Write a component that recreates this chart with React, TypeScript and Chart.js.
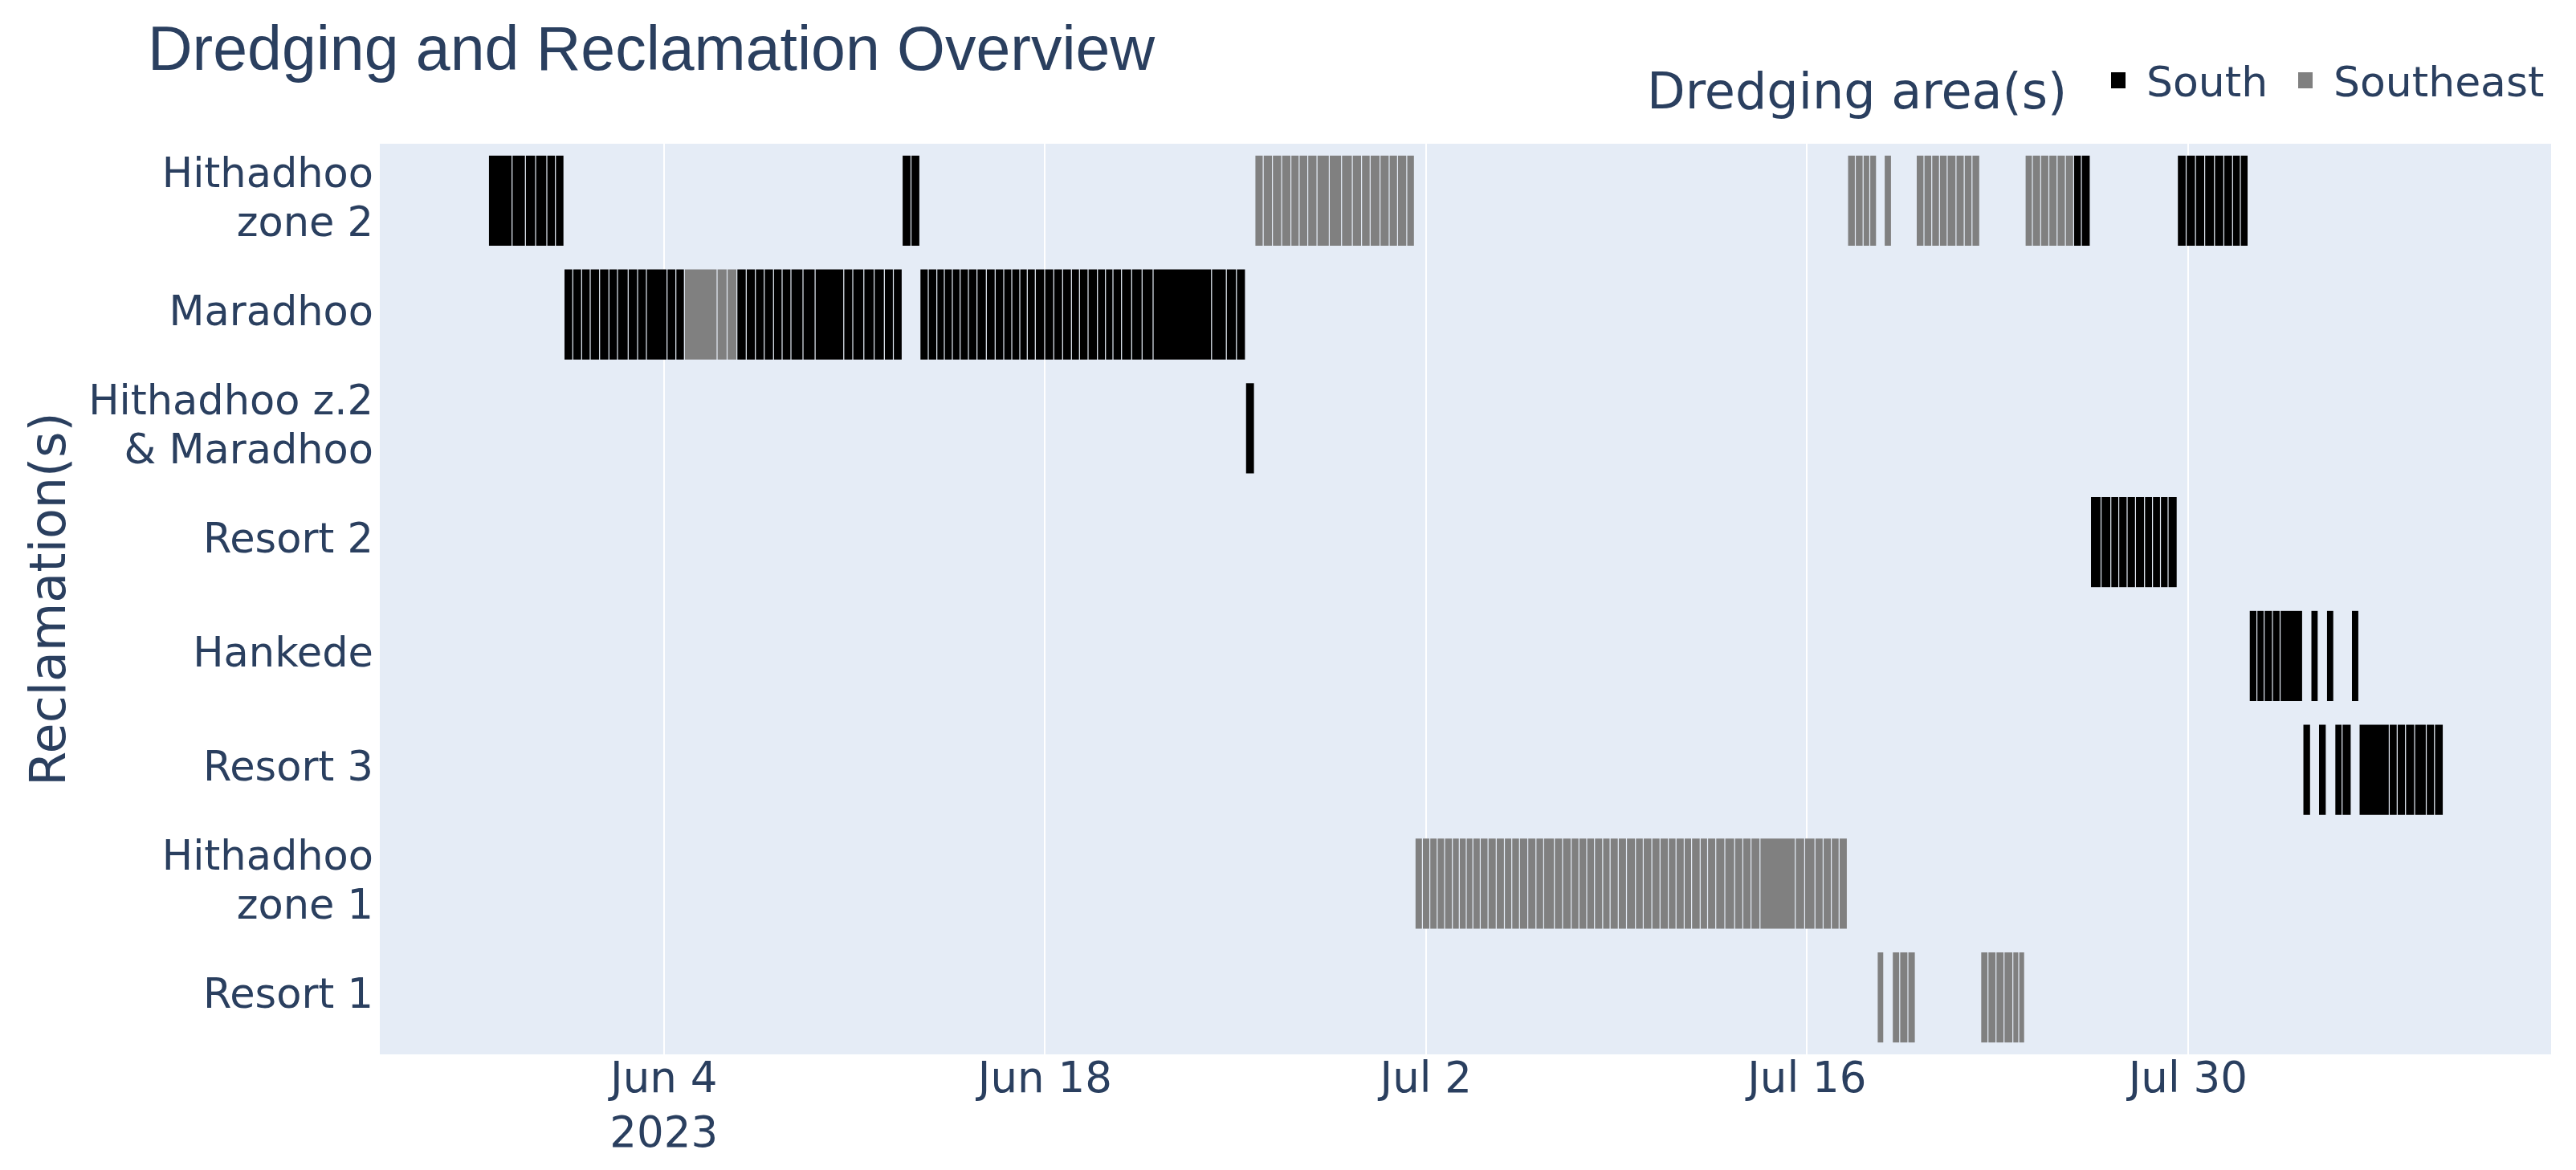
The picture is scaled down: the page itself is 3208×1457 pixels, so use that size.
import React, { useEffect, useRef } from "react";
import { Chart, registerables } from "chart.js";

Chart.register(...registerables);

// ---------------- data ----------------
const TITLE = "Dredging and Reclamation Overview";
const Y_TITLE = "Reclamation(s)";
const LEGEND_TITLE = "Dredging area(s)";
const YEAR = 2023;

const CATEGORIES = [
  "Hithadhoo\nzone 2",
  "Maradhoo",
  "Hithadhoo z.2\n& Maradhoo",
  "Resort 2",
  "Hankede",
  "Resort 3",
  "Hithadhoo\nzone 1",
  "Resort 1",
];

const AREAS = ["South", "Southeast"];
const AREA_COLORS = ["#000000", "#808080"];

const X_TICKS = ["06-04", "06-18", "07-02", "07-16", "07-30"];
const X_RANGE = ["05-24 13:28", "08-12 08:13"];

// Each inner array is a run of back-to-back trips: consecutive timestamps bound one trip.
const HZ2_SOUTH = [
  ["05-28 13:17", "05-29 10:06", "05-29 21:51", "05-30 06:51", "05-30 16:45", "05-31 00:20", "05-31 07:50"],
  ["06-12 18:06", "06-13 01:53", "06-13 09:41"],
  ["07-25 19:11", "07-26 01:59", "07-26 09:46"],
  ["07-29 14:40", "07-29 22:23", "07-30 06:36", "07-30 14:44", "07-30 23:23", "07-31 07:36", "07-31 15:19", "07-31 22:11", "08-01 04:59"],
];

const HZ2_SOUTHEAST = [
  ["06-25 17:11", "06-26 00:28", "06-26 08:37", "06-26 16:45", "06-27 00:54", "06-27 08:11", "06-27 15:46", "06-27 23:55", "06-28 10:45", "06-28 21:35", "06-29 07:04", "06-29 15:13", "06-29 22:47", "06-30 07:30", "06-30 15:34", "06-30 22:56", "07-01 07:05", "07-01 13:49"],
  ["07-17 11:50", "07-17 18:38", "07-18 01:30", "07-18 07:23", "07-18 13:20"],
  ["07-18 20:08", "07-19 02:30"],
  ["07-20 00:23", "07-20 07:11", "07-20 14:03", "07-20 20:51", "07-21 03:39", "07-21 11:26", "07-21 18:40", "07-22 01:32", "07-22 08:20"],
  ["07-24 00:24", "07-24 06:47", "07-24 14:04", "07-24 21:18", "07-25 04:35", "07-25 11:53", "07-25 19:11"],
];

const MARADHOO_SOUTH = [
  ["05-31 07:55", "05-31 15:38", "05-31 23:25", "06-01 07:00", "06-01 15:17", "06-01 23:30", "06-02 07:04", "06-02 16:29", "06-03 00:47", "06-03 08:34", "06-04 02:46", "06-04 10:33", "06-04 18:03"],
  ["06-06 16:22", "06-07 00:35", "06-07 08:39", "06-07 16:27", "06-08 00:39", "06-08 08:14", "06-08 16:01", "06-09 02:39", "06-09 13:20", "06-10 14:37", "06-10 22:33", "06-11 08:19", "06-11 17:23", "06-12 02:23", "06-12 10:19", "06-12 18:06"],
  ["06-13 09:49", "06-13 17:07", "06-14 00:41", "06-14 07:17", "06-14 14:21", "06-14 21:13", "06-15 04:31", "06-15 12:06", "06-15 20:19", "06-16 04:06", "06-16 11:41", "06-16 18:46", "06-17 01:50", "06-17 08:25", "06-17 15:30", "06-17 23:47", "06-18 07:48", "06-18 15:35", "06-18 23:22", "06-19 06:27", "06-19 14:02", "06-19 22:19", "06-20 05:24", "06-20 11:59", "06-20 19:33", "06-21 04:29", "06-21 13:41", "06-21 23:23", "06-24 02:56", "06-24 15:58", "06-25 00:53", "06-25 08:49"],
];

const MARADHOO_SOUTHEAST = [
  ["06-04 18:03", "06-05 22:53", "06-06 07:44", "06-06 16:22"],
];

const HZ2_MARADHOO_SOUTH = [["06-25 08:55", "06-25 16:45"]];

const RESORT2_SOUTH = [
  ["07-26 10:03", "07-26 19:20", "07-27 03:58", "07-27 10:58", "07-27 18:20", "07-28 01:42", "07-28 09:42", "07-28 16:43", "07-28 23:44", "07-29 06:27", "07-29 14:27"],
];

const HANKEDE_SOUTH = [
  ["08-01 06:02", "08-01 12:46", "08-01 19:08", "08-02 02:30", "08-02 09:14", "08-03 05:04"],
  ["08-03 12:25", "08-03 18:48"],
  ["08-04 02:10", "08-04 08:32"],
  ["08-05 00:11", "08-05 06:38"],
];

const RESORT3_SOUTH = [
  ["08-03 05:21", "08-03 12:04"],
  ["08-03 19:09", "08-04 01:55"],
  ["08-04 09:32", "08-04 15:54", "08-04 23:54"],
  ["08-05 06:55", "08-06 09:28", "08-06 16:29", "08-06 23:50", "08-07 07:51", "08-07 18:07", "08-08 01:24", "08-08 09:07"],
];

const HZ1_SOUTHEAST = [
  ["07-01 14:22", "07-01 20:53", "07-02 03:24", "07-02 09:55", "07-02 16:26", "07-02 23:18", "07-03 05:24", "07-03 11:33", "07-03 17:22", "07-03 23:53", "07-04 06:45", "07-04 13:58", "07-04 21:11", "07-05 03:42", "07-05 10:30", "07-05 17:48", "07-06 01:01", "07-06 07:49", "07-06 17:14", "07-07 00:28", "07-07 08:02", "07-07 14:54", "07-07 21:46", "07-08 04:38", "07-08 11:51", "07-08 18:23", "07-09 01:36", "07-09 08:50", "07-09 16:45", "07-09 23:37", "07-10 07:12", "07-10 14:25", "07-10 21:43", "07-11 04:31", "07-11 11:44", "07-11 18:15", "07-12 01:50", "07-12 08:21", "07-12 15:34", "07-12 23:34", "07-13 08:12", "07-13 15:26", "07-13 22:39", "07-14 06:35", "07-15 13:40", "07-15 21:57", "07-16 07:02", "07-16 14:15", "07-16 21:28", "07-17 04:20", "07-17 11:33"],
];

const RESORT1_SOUTHEAST = [
  ["07-18 13:58", "07-18 19:42"],
  ["07-19 03:17", "07-19 09:48", "07-19 17:01", "07-19 23:32"],
  ["07-22 09:15", "07-22 15:37", "07-22 22:42", "07-23 05:47", "07-23 13:34", "07-23 18:45", "07-23 23:55"],
];

const SERIES = [
  { row: CATEGORIES[0], area: "South", runs: HZ2_SOUTH },
  { row: CATEGORIES[0], area: "Southeast", runs: HZ2_SOUTHEAST },
  { row: CATEGORIES[1], area: "South", runs: MARADHOO_SOUTH },
  { row: CATEGORIES[1], area: "Southeast", runs: MARADHOO_SOUTHEAST },
  { row: CATEGORIES[2], area: "South", runs: HZ2_MARADHOO_SOUTH },
  { row: CATEGORIES[3], area: "South", runs: RESORT2_SOUTH },
  { row: CATEGORIES[4], area: "South", runs: HANKEDE_SOUTH },
  { row: CATEGORIES[5], area: "South", runs: RESORT3_SOUTH },
  { row: CATEGORIES[6], area: "Southeast", runs: HZ1_SOUTHEAST },
  { row: CATEGORIES[7], area: "Southeast", runs: RESORT1_SOUTHEAST },
];

// ---------------- helpers ----------------
const MONTHS = ["Jan", "Feb", "Mar", "Apr", "May", "Jun", "Jul", "Aug", "Sep", "Oct", "Nov", "Dec"];

function parseTime(s: string): number {
  const [md, hm = "00:00"] = s.split(" ");
  const [m, d] = md.split("-").map(Number);
  const [h, mi] = hm.split(":").map(Number);
  return Date.UTC(YEAR, m - 1, d, h, mi);
}

const W = 3208;
const H = 1457;
const TEXT = "#2a3f5f";
const PLOT_BG = "#E5ECF6";
const FONT = "'DejaVu Sans', Verdana, sans-serif";

const bgPlugin = {
  id: "plotBg",
  beforeDraw(chart: any) {
    const { ctx, chartArea } = chart;
    ctx.save();
    ctx.fillStyle = "#ffffff";
    ctx.fillRect(0, 0, chart.width, chart.height);
    ctx.fillStyle = PLOT_BG;
    ctx.fillRect(chartArea.left, chartArea.top, chartArea.right - chartArea.left, chartArea.bottom - chartArea.top);
    ctx.restore();
  },
};

const overlayPlugin = {
  id: "overlayText",
  afterDraw(chart: any) {
    const { ctx } = chart;
    ctx.save();
    ctx.fillStyle = TEXT;
    ctx.textBaseline = "alphabetic";
    ctx.textAlign = "left";
    ctx.font = "77px 'Liberation Sans', Arial, sans-serif";
    ctx.fillText(TITLE, 184, 87);
    ctx.font = `62px ${FONT}`;
    ctx.fillText(LEGEND_TITLE, 2051, 135);
    const itemX = [2629, 2862];
    AREAS.forEach((area, i) => {
      ctx.fillStyle = AREA_COLORS[i];
      ctx.fillRect(itemX[i], 90, 18, 20);
      ctx.fillStyle = TEXT;
      ctx.font = `52px ${FONT}`;
      ctx.fillText(area, itemX[i] + 44, 120);
    });
    ctx.restore();
  },
};

export default function App() {
  const ref = useRef<HTMLCanvasElement | null>(null);

  useEffect(() => {
    document.body.style.margin = "0";
    const canvas = ref.current;
    if (!canvas) return;

    const datasets = AREAS.map((area, ai) => ({
      label: area,
      data: SERIES.filter((s) => s.area === area).flatMap((s) =>
        s.runs.flatMap((run) =>
          run.slice(1).map((end, i) => ({ x: [parseTime(run[i]), parseTime(end)], y: s.row }))
        )
      ),
      backgroundColor: AREA_COLORS[ai],
      borderColor: PLOT_BG,
      borderWidth: 0.6,
      borderSkipped: false as const,
      grouped: false,
      barPercentage: 0.8,
      categoryPercentage: 1,
    }));

    const chart = new Chart(canvas, {
      type: "bar",
      data: { labels: CATEGORIES, datasets: datasets as any },
      plugins: [bgPlugin, overlayPlugin],
      options: {
        indexAxis: "y",
        animation: false,
        responsive: false,
        devicePixelRatio: 1,
        layout: { padding: { top: 179, right: 31, bottom: 0, left: 0 } },
        plugins: {
          legend: { display: false },
          title: { display: false },
          tooltip: { enabled: false },
        },
        scales: {
          x: {
            type: "linear",
            min: parseTime(X_RANGE[0]),
            max: parseTime(X_RANGE[1]),
            afterBuildTicks: (scale: any) => {
              scale.ticks = X_TICKS.map((t) => ({ value: parseTime(t) }));
            },
            afterFit: (scale: any) => {
              scale.height = H - 1313;
            },
            ticks: {
              autoSkip: false,
              maxRotation: 0,
              padding: 0,
              color: TEXT,
              font: { family: FONT, size: 53, lineHeight: 1.27 },
              callback: (value: any, index: number) => {
                const d = new Date(Number(value));
                const label = `${MONTHS[d.getUTCMonth()]} ${d.getUTCDate()}`;
                return index === 0 ? [label, String(YEAR)] : label;
              },
            },
            grid: { color: "#ffffff", lineWidth: 2, drawTicks: false },
            border: { display: false },
          },
          y: {
            type: "category",
            afterFit: (scale: any) => {
              scale.width = 473;
            },
            ticks: {
              autoSkip: false,
              padding: 0,
              color: TEXT,
              font: { family: FONT, size: 51, lineHeight: 1.2 },
              callback: function (this: any, value: any) {
                return String(this.getLabelForValue(value)).split("\n");
              },
            },
            grid: { display: false },
            border: { display: false },
            title: {
              display: true,
              text: Y_TITLE,
              color: TEXT,
              font: { family: FONT, size: 62 },
              padding: { top: 28, bottom: 0 },
            },
          },
        },
      } as any,
    });

    return () => chart.destroy();
  }, []);

  return (
    <div style={{ width: W, height: H, position: "relative" }}>
      <canvas ref={ref} width={W} height={H} style={{ width: W, height: H, display: "block" }} />
    </div>
  );
}
